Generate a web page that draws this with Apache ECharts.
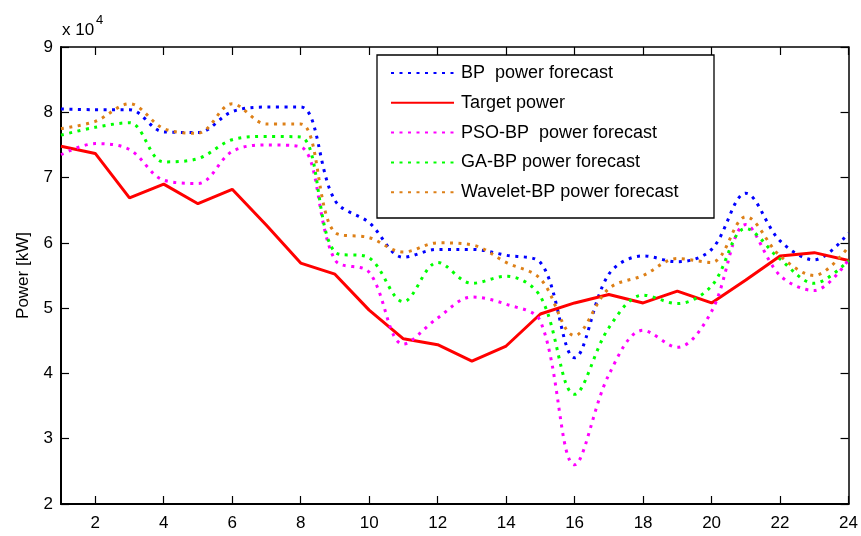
<!DOCTYPE html>
<html>
<head>
<meta charset="utf-8">
<script src="https://cdn.jsdelivr.net/npm/echarts@6/dist/echarts.min.js"></script>
<style>
  html, body { margin: 0; padding: 0; background: #fff; }
  #chart { width: 861px; height: 536px; }
</style>
</head>
<body>
<div id="chart"></div>
<script>
// Hours of the forecast day
const hours = [1,2,3,4,5,6,7,8,9,10,11,12,13,14,15,16,17,18,19,20,21,22,23,24];
const xTicks = [2,4,6,8,10,12,14,16,18,20,22,24];

// Power values in kW
const bpForecast = [80500, 80400, 80400, 77000, 76900, 80100, 80800, 80800, 66500, 63100, 57800, 59000,
                    59000, 58100, 57000, 42400, 55200, 58000, 57100, 59000, 67600, 60300, 57400, 61500];
const targetPower = [74800, 73700, 66900, 69000, 66000, 68200, 62700, 56900, 55200, 49700, 45300, 44400,
                     41900, 44200, 49100, 50800, 52100, 50800, 52600, 50800, 54300, 58000, 58500, 57300];
const psoBpForecast = [73500, 75200, 74300, 69600, 69100, 74000, 75000, 74700, 57400, 55500, 44500, 48500,
                       51700, 50600, 48000, 26000, 39800, 46600, 44000, 49500, 62800, 55000, 52700, 57400];
const gaBpForecast = [76500, 77700, 78400, 72400, 72900, 75800, 76300, 76200, 58600, 57700, 51000, 57000,
                      53800, 54900, 51800, 36800, 47000, 52000, 50700, 53400, 62200, 57500, 53800, 57300];
const waveletBpForecast = [77500, 78600, 81300, 77500, 76800, 81300, 78200, 78200, 61600, 60800, 58600, 60000,
                           59700, 57000, 54500, 45800, 53000, 55000, 57600, 57000, 64000, 58000, 55000, 59400];

const seriesNames = ['BP  power forecast', 'Target power', 'PSO-BP  power forecast',
                     'GA-BP power forecast', 'Wavelet-BP power forecast'];

const FONT = '"Liberation Sans", Arial, sans-serif';
const pairs = arr => hours.map((h, i) => [h, arr[i]]);

function dotted(name, data, color) {
  return {
    name, type: 'line', data: pairs(data), symbol: 'none', smooth: 0.35,
    lineStyle: { color, width: 3, type: [3, 5.5], cap: 'butt' },
    itemStyle: { color }
  };
}

const chart = echarts.init(document.getElementById('chart'), null, { renderer: 'canvas' });
chart.setOption({
  backgroundColor: '#fff',
  animation: false,
  grid: { left: 61, right: 12, top: 47, bottom: 32 },
  legend: {
    orient: 'vertical', left: 390, top: 64, padding: 0,
    itemWidth: 63, itemHeight: 20, itemGap: 11.8,
    data: seriesNames,
    itemStyle: { opacity: 0 },
    textStyle: { fontFamily: FONT, fontSize: 18, color: '#000', padding: [0, 0, 0, 2] }
  },
  graphic: [
    { type: 'rect', z: 3, shape: { x: 377, y: 55, width: 337, height: 163 },
      style: { fill: '#fff', stroke: '#000', lineWidth: 1.3 } },
    { type: 'text', z: 5, style: { x: 62, y: 30, text: 'x 10', font: '17px ' + FONT, fill: '#000', verticalAlign: 'middle' } },
    { type: 'text', z: 5, style: { x: 96, y: 20, text: '4', font: '13px ' + FONT, fill: '#000', verticalAlign: 'middle' } }
  ],
  xAxis: [
    {
      type: 'value', min: 1, max: 24, position: 'bottom',
      axisLine: { show: true, lineStyle: { color: '#000', width: 2 } },
      axisTick: { show: true, inside: true, length: 8, customValues: xTicks, lineStyle: { color: '#000', width: 1.2 } },
      axisLabel: { customValues: xTicks, color: '#000', fontFamily: FONT, fontSize: 17, margin: 11 },
      splitLine: { show: false }
    },
    {
      type: 'value', min: 1, max: 24, position: 'top',
      axisLine: { show: true, lineStyle: { color: '#000', width: 1.5 } },
      axisTick: { show: true, inside: true, length: 8, customValues: xTicks, lineStyle: { color: '#000', width: 1.2 } },
      axisLabel: { show: false },
      splitLine: { show: false }
    }
  ],
  yAxis: [
    {
      type: 'value', min: 20000, max: 90000, interval: 10000, position: 'left',
      name: 'Power [kW]', nameLocation: 'middle', nameGap: 29, nameRotate: 90,
      nameTextStyle: { fontFamily: FONT, fontSize: 17, color: '#000' },
      axisLine: { show: true, lineStyle: { color: '#000', width: 2 } },
      axisTick: { show: true, inside: true, length: 8, lineStyle: { color: '#000', width: 1.2 } },
      axisLabel: { color: '#000', fontFamily: FONT, fontSize: 17, margin: 8, formatter: v => String(v / 10000) },
      splitLine: { show: false }
    },
    {
      type: 'value', min: 20000, max: 90000, interval: 10000, position: 'right',
      axisLine: { show: true, lineStyle: { color: '#000', width: 1.5 } },
      axisTick: { show: true, inside: true, length: 8, lineStyle: { color: '#000', width: 1.2 } },
      axisLabel: { show: false },
      splitLine: { show: false }
    }
  ],
  series: [
    dotted(seriesNames[0], bpForecast, '#0000ff'),
    {
      name: seriesNames[1], type: 'line', data: pairs(targetPower), symbol: 'none',
      lineStyle: { color: '#ff0000', width: 3 }, itemStyle: { color: '#ff0000' }
    },
    dotted(seriesNames[2], psoBpForecast, '#ff00ff'),
    dotted(seriesNames[3], gaBpForecast, '#00ff00'),
    dotted(seriesNames[4], waveletBpForecast, '#dd8018')
  ]
});
</script>
</body>
</html>
